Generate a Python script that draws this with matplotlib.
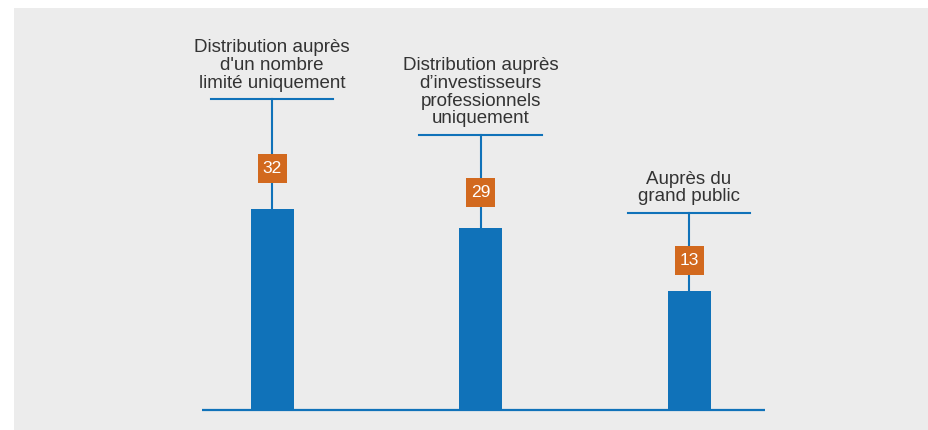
import matplotlib.pyplot as plt
from matplotlib.patches import Rectangle

# données
categories = [
    "Distribution auprès\nd'un nombre\nlimité uniquement",
    "Distribution auprès\nd’investisseurs\nprofessionnels\nuniquement",
    "Auprès du\ngrand public",
]
values = [32, 29, 13]
bar_heights = [32, 29, 19]

BLUE = '#1072b9'
ORANGE = '#d2691e'
GREY = '#ececec'

plt.rcParams['font.family'] = ['Liberation Sans', 'DejaVu Sans']

fig = plt.figure(figsize=(9.29, 4.30), dpi=100)
fig.patch.set_facecolor('white')

ax = fig.add_axes([0, 0, 1, 1])
ax.set_facecolor('none')
ax.set_xlim(-1.305, 3.151)
ax.set_ylim(-3.18, 65.29)
ax.axis('off')

# panneau gris de fond (coordonnées de la figure = axes ici)
ax.add_patch(Rectangle((14 / 929, 0), 1 - 14 / 929, 422 / 430,
                       transform=ax.transAxes, facecolor=GREY,
                       edgecolor='none', zorder=0))

x = range(len(values))
ax.bar(x, bar_heights, width=0.206, color=BLUE, zorder=2)
ax.plot([-0.336, 2.365], [0, 0], color=BLUE, lw=1.6, zorder=3,
        solid_capstyle='butt')

# hauteur de la barre horizontale et de l'étiquette au-dessus de chaque barre
stem_tops = [49.5, 43.8, 31.4]
box_offsets = [6.4, 5.6, 4.8]

for i, (h, v, lab) in enumerate(zip(bar_heights, values, categories)):
    top = stem_tops[i]
    ax.plot([i, i], [h, top], color=BLUE, lw=1.5, zorder=1)
    ax.plot([i - 0.293, i + 0.293], [top, top], color=BLUE, lw=1.5, zorder=1)
    yc = h + box_offsets[i]
    bw, bh = 0.139, 4.62
    ax.add_patch(Rectangle((i - bw / 2, yc - bh / 2), bw, bh,
                           facecolor=ORANGE, edgecolor='none', zorder=4))
    ax.text(i, yc, str(v), ha='center', va='center', color='white',
            fontsize=12.5, zorder=5)
    ax.text(i, top + 1.2, lab, ha='center', va='bottom', color='#333333',
            fontsize=13.5, linespacing=1.06, zorder=5)

fig.savefig('out.png', dpi=100)
